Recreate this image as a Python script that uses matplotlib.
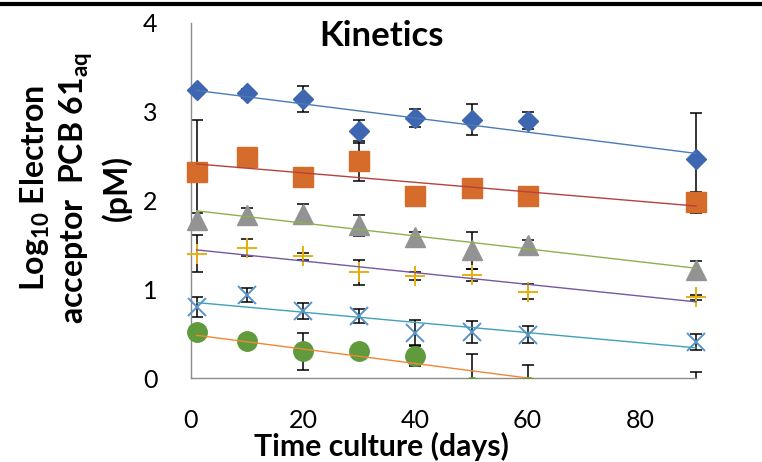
import numpy as np
import matplotlib
matplotlib.use("Agg")
import matplotlib.pyplot as plt
from matplotlib.patches import Rectangle
from matplotlib.lines import Line2D

plt.rcParams['font.family'] = ['Lato', 'DejaVu Sans']
plt.rcParams['mathtext.fontset'] = 'custom'
plt.rcParams['mathtext.rm'] = 'Lato'
plt.rcParams['mathtext.bf'] = 'Lato:bold'

days = [1, 10, 20, 30, 40, 50, 60, 90]

diamond = [3.245, 3.21, 3.14, 2.78, 2.93, 2.91, 2.90, 2.47]
diamond_err = [0.05, 0.05, 0.145, 0.13, 0.10, 0.175, 0.095, 0.52]

square = [2.32, 2.49, 2.26, 2.445, 2.05, 2.14, 2.05, 1.98]
square_err = [0.59, 0.05, 0.05, 0.22, 0.05, 0.05, 0.05, 0.12]

triangle = [1.78, 1.84, 1.85, 1.72, 1.59, 1.44, 1.50, 1.22]
triangle_err = [0.08, 0.07, 0.11, 0.12, 0.06, 0.21, 0.05, 0.10]

plus = [1.40, 1.47, 1.37, 1.19, 1.15, 1.16, 0.97, 0.91]
plus_err = [0.21, 0.095, 0.04, 0.14, 0.05, 0.07, 0.085, 0.03]

cross = [0.80, 0.935, 0.755, 0.70, 0.51, 0.52, 0.49, 0.41]
cross_err = [0.115, 0.075, 0.095, 0.08, 0.14, 0.125, 0.10, 0.09]

circle = [0.52, 0.42, 0.30, 0.30, 0.25, -0.10, -0.10, -0.13]
circle_err = [0.04, 0.05, 0.21, 0.04, 0.115, 0.37, 0.25, 0.20]

x_ticks = [0, 20, 40, 60, 80]
y_ticks = [0, 1, 2, 3, 4]

series = [
    (diamond, diamond_err, 'D', 10.2, '#3F67B1', '#4A7BB7', True),
    (square, square_err, 's', 14, '#D66C2C', '#B5423F', True),
    (triangle, triangle_err, '^', 14, '#939393', '#8DB04F', True),
    (plus, plus_err, '+', 14, '#E8B00F', '#7459A0', False),
    (cross, cross_err, 'x', 13.5, '#5A93CB', '#3FA1B9', False),
    (circle, circle_err, 'o', 14, '#5F9A3D', '#EE8838', True),
]

fig = plt.figure(figsize=(7.62, 4.62), dpi=100)
ax = fig.add_axes([191/762, 1 - 378/462, (696-191)/762, (378-23)/462])
ax.set_xlim(0, 90)
ax.set_ylim(0, 4)

clip_rect = Rectangle((-5, 0), 96.3, 10, transform=ax.transData,
                      facecolor='none', edgecolor='none')
marker_clip = Rectangle((-5, 0), 110, 10, transform=ax.transData,
                        facecolor='none', edgecolor='none')

for vals, errs, mk, ms, mcol, lcol, filled in series:
    eb = ax.errorbar(days, vals, yerr=errs, fmt='none', ecolor='black',
                     elinewidth=1.1, capsize=4.5, capthick=1.1, zorder=2)
    for art in eb.lines[1] + eb.lines[2]:
        art.set_clip_path(clip_rect)
    if filled:
        ln, = ax.plot(days, vals, linestyle='none', marker=mk, markersize=ms,
                      markerfacecolor=mcol, markeredgecolor=mcol, zorder=3)
    else:
        ln, = ax.plot(days, vals, linestyle='none', marker=mk, markersize=ms,
                      markeredgecolor=mcol, markeredgewidth=1.4, zorder=3)
    ln.set_clip_path(marker_clip)
    slope, intercept = np.polyfit(days, vals, 1)
    xs = np.array([days[0], days[-1]])
    tl, = ax.plot(xs, slope * xs + intercept, color=lcol, linewidth=1.0, zorder=4)
    tl.set_clip_path(clip_rect)

for s in ['top', 'right']:
    ax.spines[s].set_visible(False)
for s in ['left', 'bottom']:
    ax.spines[s].set_color('#8C8C8C')
    ax.spines[s].set_linewidth(1.0)

ax.set_xticks(x_ticks)
ax.set_yticks(y_ticks)
ax.tick_params(axis='both', length=0, labelsize=18, colors='black')
ax.tick_params(axis='y', pad=24)
ax.tick_params(axis='x', pad=22)

fig.text(382/762, 1 - 36/462, 'Kinetics', ha='center', va='center',
         fontsize=25, fontweight='bold')
fig.text(381/762, 1 - 446/462, 'Time culture (days)', ha='center', va='center',
         fontsize=21.7, fontweight='bold')
fig.text(75/762, 1 - 188/462,
         'Log$_{\\mathbf{10}}$ Electron\nacceptor  PCB 61$_{\\mathbf{aq}}$\n(pM)',
         ha='center', va='center', rotation=90, multialignment='center',
         fontsize=23, fontweight='bold', linespacing=1.22)

fig.add_artist(Line2D([0, 1], [1 - 3.5/462, 1 - 3.5/462], transform=fig.transFigure,
                      color='black', linewidth=3.0))

fig.savefig('out.png', dpi=100)
